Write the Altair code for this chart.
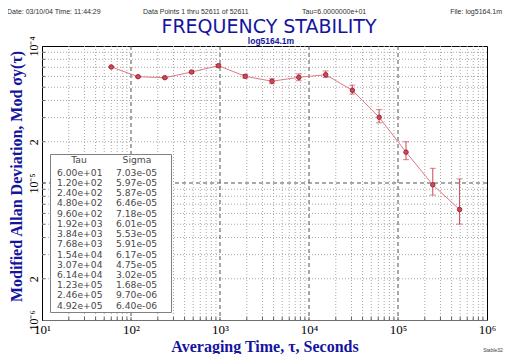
import altair as alt
import pandas as pd

tau = [60, 120, 240, 480, 960, 1920, 3840, 7680, 15400, 30700, 61400, 123000, 246000, 492000]
sigma = [7.03e-5, 5.97e-5, 5.87e-5, 6.46e-5, 7.18e-5, 6.01e-5, 5.53e-5, 5.91e-5,
         6.17e-5, 4.75e-5, 3.02e-5, 1.68e-5, 9.70e-6, 6.40e-6]
err_lo = [6.97e-5, 5.91e-5, 5.79e-5, 6.35e-5, 7.02e-5, 5.83e-5, 5.30e-5, 5.58e-5,
          5.89e-5, 4.46e-5, 2.75e-5, 1.48e-5, 8.16e-6, 5.01e-6]
err_hi = [7.09e-5, 6.03e-5, 5.95e-5, 6.57e-5, 7.34e-5, 6.19e-5, 5.77e-5, 6.26e-5,
          6.58e-5, 5.18e-5, 3.43e-5, 2.00e-5, 1.28e-5, 1.07e-5]
tau_labels = ["6.00e+01", "1.20e+02", "2.40e+02", "4.80e+02", "9.60e+02", "1.92e+03",
              "3.84e+03", "7.68e+03", "1.54e+04", "3.07e+04", "6.14e+04", "1.23e+05",
              "2.46e+05", "4.92e+05"]
sigma_labels = ["7.03e-05", "5.97e-05", "5.87e-05", "6.46e-05", "7.18e-05", "6.01e-05",
                "5.53e-05", "5.91e-05", "6.17e-05", "4.75e-05", "3.02e-05", "1.68e-05",
                "9.70e-06", "6.40e-06"]
x_ticks = [10, 100, 1000, 10000, 100000, 1000000]
y_ticks = [1e-6, 2e-6, 1e-5, 2e-5, 1e-4]
x_major_grid = [100, 1000, 10000, 100000]
x_minor_grid = [k * 10 ** d for d in range(1, 6) for k in range(2, 10)]
y_major_grid = [1e-5]
y_minor_grid = [k * 10.0 ** d for d in (-6, -5) for k in range(2, 10)]

W, H = 445, 274
TOP = 46          # page y of plot top
BLUE = "#1414a0"

def py(page_y):
    return page_y - TOP

df = pd.DataFrame({"tau": tau, "sigma": sigma, "lo": err_lo, "hi": err_hi,
                   "tl": tau_labels, "sl": sigma_labels, "row": list(range(len(tau)))})

xs = alt.Scale(type="log", domain=[10, 1e6], nice=False)
ys = alt.Scale(type="log", domain=[1e-6, 1e-4], nice=False)

xlab = "'10' + ['','¹','²','³','⁴','⁵','⁶'][round(log(datum.value)/LN10)]"
ylab = ("round(datum.value / pow(10, floor(log(datum.value)/LN10 + 0.001))) == 2 ? '2' : "
        "'10' + ['⁻⁶','⁻⁵','⁻⁴'][floor(log(datum.value)/LN10 + 0.001) + 6]")

base = alt.Chart(df)

xminor = alt.Chart(pd.DataFrame({"v": x_minor_grid})).mark_rule(
    color="#a8a8a8", strokeDash=[1, 2], strokeWidth=1).encode(
    x=alt.X("v:Q", scale=xs, axis=alt.Axis(values=x_ticks, labelExpr=xlab, grid=False, ticks=False,
                                           labelFont="Liberation Serif", labelFontSize=13,
                                           labelColor="#000", labelPadding=3, domainColor="#707070",
                                           title=None, labelFlush=False)))
xmajor = alt.Chart(pd.DataFrame({"v": x_major_grid})).mark_rule(
    color="#505050", strokeDash=[4, 3], strokeWidth=1).encode(x=alt.X("v:Q", scale=xs))
yminor = alt.Chart(pd.DataFrame({"v": y_minor_grid})).mark_rule(
    color="#a8a8a8", strokeDash=[1, 2], strokeWidth=1).encode(
    y=alt.Y("v:Q", scale=ys, axis=alt.Axis(values=y_ticks, labelExpr=ylab, grid=False, ticks=False,
                                           labelFont="Liberation Serif", labelFontSize=12,
                                           labelColor="#000", labelAngle=270, labelAlign="center",
                                           labelBaseline="bottom", labelPadding=2,
                                           domainColor="#000", title=None, labelFlush=False)))
ymajor = alt.Chart(pd.DataFrame({"v": y_major_grid})).mark_rule(
    color="#505050", strokeDash=[4, 3], strokeWidth=1).encode(y=alt.Y("v:Q", scale=ys))

xtick = alt.Chart(pd.DataFrame({"v": x_minor_grid + x_major_grid})).mark_rule(
    color="#606060").encode(x=alt.X("v:Q", scale=xs), y=alt.value(H), y2=alt.value(H - 3))
ytick = alt.Chart(pd.DataFrame({"v": y_minor_grid + y_major_grid})).mark_rule(
    color="#606060").encode(y=alt.Y("v:Q", scale=ys), x=alt.value(0), x2=alt.value(3))

line = base.mark_line(color="#e07888", strokeWidth=1).encode(
    x=alt.X("tau:Q", scale=xs), y=alt.Y("sigma:Q", scale=ys))
ebar = base.mark_rule(color="#c84858", strokeWidth=1).encode(
    x=alt.X("tau:Q", scale=xs), y=alt.Y("lo:Q", scale=ys), y2="hi:Q")
cap_lo = base.mark_tick(color="#c84858", orient="horizontal", size=6, thickness=1).encode(
    x=alt.X("tau:Q", scale=xs), y=alt.Y("lo:Q", scale=ys))
cap_hi = base.mark_tick(color="#c84858", orient="horizontal", size=6, thickness=1).encode(
    x=alt.X("tau:Q", scale=xs), y=alt.Y("hi:Q", scale=ys))
pts = base.mark_point(shape="circle", filled=True, size=20, color="#d04858",
                      stroke="#a02838", strokeWidth=1, opacity=1).encode(
    x=alt.X("tau:Q", scale=xs), y=alt.Y("sigma:Q", scale=ys))

one = alt.Chart(pd.DataFrame({"a": [0]}))

TC = "#484848"
TF = dict(font="DejaVu Sans", fontSize=9.2, color=TC)
box = one.mark_rect(fill="white", stroke="#808080", strokeWidth=1).encode(
    x=alt.value(8.5), x2=alt.value(129.5), y=alt.value(py(154.5)), y2=alt.value(py(312.5)))
hdr_tau = one.mark_text(text="Tau", **TF).encode(x=alt.value(37), y=alt.value(py(160)))
hdr_sig = one.mark_text(text="Sigma", **TF).encode(x=alt.value(95), y=alt.value(py(160)))
row_y = f"{py(172.7)} + datum.row * 10.23"
tab_tau = base.transform_calculate(yp=row_y).mark_text(
    align="left", **TF).encode(x=alt.value(15), y=alt.Y("yp:Q", scale=None), text="tl:N")
tab_sig = base.transform_calculate(yp=row_y).mark_text(
    align="left", **TF).encode(x=alt.value(74), y=alt.Y("yp:Q", scale=None), text="sl:N")

def txt(s, x, y, **kw):
    return one.mark_text(text=s, **kw).encode(x=alt.value(x), y=alt.value(y))

HF = dict(font="Liberation Sans", fontSize=7, color="#303030", baseline="alphabetic")
hdr1 = txt("Date: 03/10/04   Time: 11:44:29", -35, py(14), align="left", **HF)
hdr2 = txt("Data Points 1 thru 52611 of 52611", 101, py(14), align="left", **HF)
hdr3 = txt("Tau=6.0000000e+01", 260, py(14), align="left", **HF)
hdr4 = txt("File: log5164.1m", 460, py(14), align="right", **HF)
title = txt("FREQUENCY STABILITY", 227, py(32.5), font="DejaVu Sans", fontSize=19, color=BLUE,
            baseline="alphabetic")
sub = txt("log5164.1m", 229, py(44), font="Liberation Sans", fontSize=8.5, fontWeight="bold",
          color=BLUE, baseline="alphabetic")
ytitle = txt("Modified Allan Deviation, Mod σy(τ)", -25, py(176.5), angle=270, font="Liberation Serif",
             fontSize=16, fontWeight="bold", color=BLUE)
xtitle = txt("Averaging Time, τ, Seconds", 223, py(351.5), font="Liberation Serif",
             fontSize=16, fontWeight="bold", color=BLUE, baseline="alphabetic")
stable = txt("Stable32", 451, py(350), font="Liberation Sans", fontSize=5, color="#404040")

chart = alt.layer(
    xminor, yminor, xmajor, ymajor, xtick, ytick,
    box, hdr_tau, hdr_sig, tab_tau, tab_sig,
    line, ebar, cap_lo, cap_hi, pts,
    hdr1, hdr2, hdr3, hdr4, title, sub, ytitle, xtitle, stable,
).properties(
    width=W, height=H,
    autosize=alt.AutoSizeParams(type="none"),
    padding={"left": 34, "top": TOP - 8, "right": 17, "bottom": 346 - (TOP - 8) - H},
    background="white",
).configure_view(stroke="#000", strokeWidth=1)

chart.save("out.html", embed_options={"renderer": "svg", "actions": False})
